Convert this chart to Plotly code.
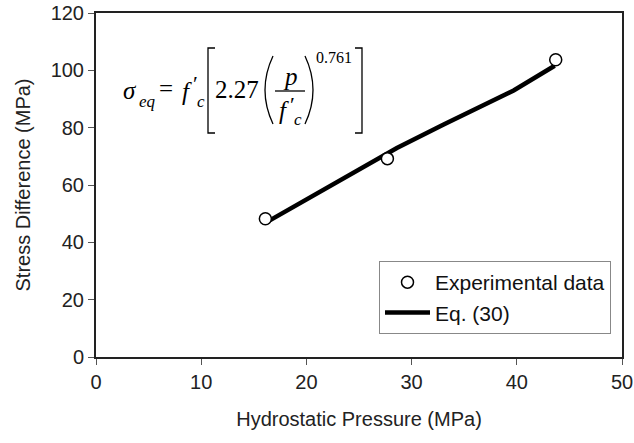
import plotly.graph_objects as go

# ---- data ----
exp_p = [16.1, 27.7, 43.7]
exp_s = [48.2, 69.2, 103.7]

eq_p = [16.1, 21.3, 24.8, 26.1, 28.6, 33.0, 39.7, 43.6]
eq_s = [46.8, 57.6, 64.6, 67.6, 72.9, 81.0, 93.0, 101.6]

x_ticks = [0, 10, 20, 30, 40, 50]
y_ticks = [0, 20, 40, 60, 80, 100, 120]

W, H = 634, 443
L, R, T, B = 96, 12, 13, 86
PW, PH = W - L - R, H - T - B


def px(x):
    return (x - L) / PW


def py(y):
    return (H - B - y) / PH


fig = go.Figure()
fig.add_trace(go.Scatter(
    x=eq_p, y=eq_s, mode="lines", name="Eq. (30)",
    line=dict(color="black", width=4.5), legendrank=2))
fig.add_trace(go.Scatter(
    x=exp_p, y=exp_s, mode="markers", name="Experimental data",
    marker=dict(symbol="circle", size=12, color="white",
                line=dict(color="black", width=1.5)), legendrank=1))

serif = "Liberation Serif, Times New Roman, serif"
ann = []


def text(t, x, y, size=25, xanchor="center", yanchor="middle"):
    ann.append(dict(text=t, x=px(x), y=py(y), xref="paper", yref="paper",
                    showarrow=False, xanchor=xanchor, yanchor=yanchor,
                    font=dict(family=serif, size=size, color="black")))


text("<i>σ</i>", 130, 91)
text("<i>eq</i>", 147, 101, size=17)
text("=", 166, 89)
text("<i>f</i>", 187, 92)
text("′", 195, 83, size=22)
text("<i>c</i>", 201, 101, size=17)
text("2.27", 237, 90)
text("<i>p</i>", 290, 76)
text("<i>f</i>", 284, 111)
text("′", 292, 104, size=22)
text("<i>c</i>", 298, 119, size=17)
text("0.761", 334, 57, size=16)

shapes = []


def seg(path):
    shapes.append(dict(type="path", path=path, xref="paper", yref="paper",
                       line=dict(color="black", width=1.3)))


def P(x, y):
    return f"{px(x):.5f},{py(y):.5f}"

# brackets
seg(f"M {P(215,48)} L {P(208,48)} L {P(208,133)} L {P(215,133)}")
seg(f"M {P(355,48)} L {P(362,48)} L {P(362,133)} L {P(355,133)}")
# parentheses
seg(f"M {P(273,56)} Q {P(257,90)} {P(273,124)}")
seg(f"M {P(305,56)} Q {P(321,90)} {P(305,124)}")
# fraction bar
seg(f"M {P(275,91)} L {P(305,91)}")

axis_common = dict(showline=True, linecolor="#222", linewidth=2, mirror=True,
                   ticks="outside", ticklen=6, tickcolor="#555", tickwidth=1,
                   showgrid=False, zeroline=False, automargin=False,
                   tickfont=dict(family="Liberation Sans, Arial", size=20, color="#222"),
                   title_font=dict(family="Liberation Sans, Arial", size=20, color="#222"))

fig.update_layout(
    width=W, height=H, autosize=False,
    margin=dict(l=L, r=R, t=T, b=B),
    paper_bgcolor="white", plot_bgcolor="white",
    xaxis=dict(range=[0, 50], tickvals=x_ticks, title_text="Hydrostatic Pressure (MPa)",
               title_standoff=20, **axis_common),
    yaxis=dict(range=[0, 120], tickvals=y_ticks, title_text="Stress Difference (MPa)",
               **axis_common),
    legend=dict(x=px(379), y=py(261), xanchor="left", yanchor="top",
                bgcolor="white", bordercolor="#888", borderwidth=1, itemwidth=45,
                font=dict(family="Liberation Sans, Arial", size=21, color="#111")),
    annotations=ann, shapes=shapes,
)

fig.write_html("out.html")
